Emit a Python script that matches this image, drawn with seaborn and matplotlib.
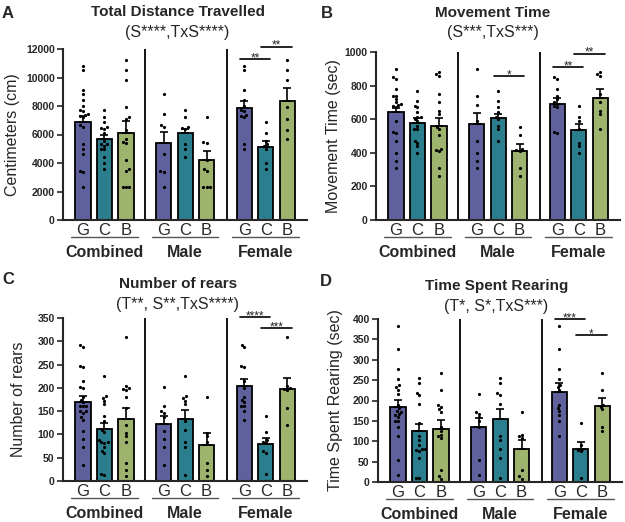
import matplotlib
matplotlib.use("Agg")
import matplotlib.pyplot as plt
import matplotlib.transforms as mtransforms
import numpy as np
import pandas as pd
import seaborn as sns

sns.set_style("white")
plt.rcParams["font.family"] = ["Liberation Sans", "DejaVu Sans"]

W, H = 625, 522

TREATS = ["G", "C", "B"]
GROUPS = ["Combined", "Male", "Female"]
COLORS = {"G": "#5558A6", "C": "#1B8A9D", "B": "#A2BE63"}
POS = [0, 1, 2, 3.75, 4.75, 5.75, 7.5, 8.5, 9.5]
SEPARATORS = [2.88, 6.7]

# bar order: Combined G C B, Male G C B, Female G C B
DIST_MEAN = [6850, 5660, 6130, 5430, 6080, 4190, 7835, 5100, 8350]
DIST_SEM = [420, 300, 800, 750, 280, 650, 500, 450, 880]
DIST_MALE = [[8850, 7450, 6650, 6550, 4650, 3450, 3400, 2350],
             [7750, 7250, 6550, 6450, 6400, 5300, 4950, 4400],
             [7200, 5450, 5400, 4200, 3550, 3450, 2350, 2350, 2300]]
DIST_FEMALE = [[10800, 10550, 9150, 8450, 8000, 7750, 7650, 7400, 7300, 7200, 5300, 4950],
               [6850, 6100, 5550, 5300, 5200, 5000, 4000, 3550],
               [11200, 10500, 9800, 7900, 7100, 6300, 5700]]
DIST_SIG = [(6, 7, 11280, "**"), (7, 8, 12160, "**")]

MOVE_MEAN = [644, 578, 558, 574, 610, 412, 693, 536, 729]
MOVE_SEM = [22, 28, 50, 65, 22, 38, 35, 38, 52]
MOVE_MALE = [[900, 740, 685, 590, 470, 400, 350, 310],
             [770, 710, 670, 640, 615, 600, 560, 540, 470],
             [555, 505, 425, 415, 410, 310, 260]]
MOVE_FEMALE = [[850, 840, 780, 740, 720, 700, 690, 680, 670, 525, 520],
               [680, 615, 590, 540, 460, 440, 400],
               [880, 870, 860, 750, 700, 650, 630, 540]]
MOVE_SIG = [(4, 5, 856, "*"), (6, 7, 911, "**"), (7, 8, 990, "**")]

REAR_MEAN = [170, 111, 134, 123, 133, 77, 203, 80, 198]
REAR_SEM = [13, 13, 22, 17, 20, 27, 15, 12, 23]
REAR_MALE = [[201, 162, 150, 146, 138, 108, 91, 73, 34],
             [226, 182, 178, 172, 165, 128, 109, 84, 73, 12],
             [181, 104, 96, 84, 38, 23, 11]]
REAR_FEMALE = [[292, 288, 246, 245, 215, 200, 180, 175, 170, 162, 160, 150, 132],
               [140, 105, 88, 84, 82, 64, 60, 14],
               [309, 205, 200, 198, 196, 157, 120]]
REAR_SIG = [(6, 7, 352, "****"), (7, 8, 328, "***")]

TREAR_MEAN = [184, 124, 130, 136, 154, 80, 220, 82, 187]
TREAR_SEM = [18, 18, 21, 20, 25, 23, 22, 15, 19]
TREAR_MALE = [[216, 172, 168, 160, 150, 135, 54, 17],
              [255, 242, 218, 214, 192, 112, 103, 80, 58, 9],
              [172, 116, 112, 108, 30, 14, 8]]
TREAR_FEMALE = [[383, 327, 278, 253, 238, 232, 225, 190, 182, 175, 165, 150, 113],
                [146, 90, 82, 78, 75, 10],
                [268, 226, 190, 185, 178, 136, 126]]
TREAR_SIG = [(6, 7, 399, "***"), (7, 8, 361, "*")]


def build_frames(mean, male, female):
    bars = pd.DataFrame({"pos": POS, "mean": mean, "treat": TREATS * 3})
    rows = []
    for k in range(3):
        sets = [male[k] + female[k], male[k], female[k]]
        for g, vals in enumerate(sets):
            rows += [(POS[g * 3 + k], v) for v in vals]
    pts = pd.DataFrame(rows, columns=["pos", "value"])
    return bars, pts


def px_text(fig, x, y, s, **kw):
    fig.text(x / W, 1 - y / H, s, ha="center", va="center", **kw)


def draw_panel(fig, box, letter, letter_xy, title, title_xy, subtitle, sub_xy,
               ylabel, ylab_x, ymax, ystep, mean, sem, male, female, sigs):
    left, top, right, bottom = box
    ax = fig.add_axes([left / W, 1 - bottom / H, (right - left) / W, (bottom - top) / H])
    bars, pts = build_frames(mean, male, female)

    sns.barplot(data=bars, x="pos", y="mean", hue="treat", hue_order=TREATS,
                palette=COLORS, native_scale=True, dodge=False, width=0.7,
                edgecolor="black", linewidth=1.3, errorbar=None, legend=False,
                orient="v", ax=ax, zorder=2)
    ax.errorbar(POS, mean, yerr=[np.zeros(len(sem)), sem], fmt="none",
                ecolor="black", elinewidth=1.2, capsize=3, capthick=1.2, zorder=3)
    sns.swarmplot(data=pts, x="pos", y="value", native_scale=True, orient="v",
                  color="black", size=2.3, ax=ax, zorder=4)

    for s in SEPARATORS:
        ax.axvline(s, color="black", lw=1.3, zorder=1)

    ax.set_xlim(-0.93, 10.42)
    ax.set_ylim(0, ymax)
    ax.set_yticks(np.arange(0, ymax + 1, ystep))
    ax.set_xticks(POS, TREATS * 3)
    ax.tick_params(axis="x", length=0, pad=2, labelsize=12)
    ax.tick_params(axis="y", length=4, width=1.2, pad=2, labelsize=7.5, direction="out", left=True)
    for lab in ax.get_yticklabels():
        lab.set_fontweight("bold")
    ax.set_xlabel("")
    ax.set_ylabel(ylabel, fontsize=11.5, va="center")
    ax.yaxis.set_label_coords(ylab_x, 0.5)
    sns.despine(ax=ax)
    for side in ("left", "bottom"):
        ax.spines[side].set_linewidth(1.5)

    base = mtransforms.blended_transform_factory(ax.transData, ax.transAxes)
    line_tr = mtransforms.offset_copy(base, fig=fig, y=-17, units="dots")
    text_tr = mtransforms.offset_copy(base, fig=fig, y=-37, units="dots")
    for g, name in enumerate(GROUPS):
        c = POS[g * 3 + 1]
        ax.plot([c - 1.55, c + 1.55], [0, 0], transform=line_tr, color="#555555",
                lw=1.0, clip_on=False)
        ax.text(c, 0, name, transform=text_tr, ha="center", va="baseline",
                fontsize=11.5, fontweight="bold")

    for i, j, y, label in sigs:
        x0, x1 = POS[i] - 0.2, POS[j] + 0.2
        ax.plot([x0, x1], [y, y], color="black", lw=1.2, clip_on=False)
        ax.annotate(label, xy=((x0 + x1) / 2, y), xytext=(0, -1.5),
                    textcoords="offset points", ha="center", va="baseline",
                    fontsize=8.5, annotation_clip=False)

    px_text(fig, *letter_xy, letter, fontsize=12, fontweight="bold")
    px_text(fig, *title_xy, title, fontsize=11, fontweight="bold")
    px_text(fig, *sub_xy, subtitle, fontsize=11.5)
    return ax


fig = plt.figure(figsize=(W / 100, H / 100), dpi=100)

draw_panel(fig, (63, 49, 307, 220), "A", (8, 13), "Total Distance Travelled", (178, 12),
           "(S****,TxS****)", (177, 33), "Centimeters (cm)", -0.209, 12000, 2000,
           DIST_MEAN, DIST_SEM, DIST_MALE, DIST_FEMALE, DIST_SIG)
draw_panel(fig, (376, 52, 620, 220), "B", (327, 13), "Movement Time", (493, 13),
           "(S***,TxS***)", (493, 33), "Movement Time (sec)", -0.176, 1000, 200,
           MOVE_MEAN, MOVE_SEM, MOVE_MALE, MOVE_FEMALE, MOVE_SIG)
draw_panel(fig, (63, 318, 307, 481), "C", (8, 279), "Number of rears", (178, 284),
           "(T**, S**,TxS****)", (178, 304), "Number of rears", -0.184, 350, 50,
           REAR_MEAN, REAR_SEM, REAR_MALE, REAR_FEMALE, REAR_SIG)
draw_panel(fig, (378, 319, 622, 482), "D", (326, 281), "Time Spent Rearing", (497, 286),
           "(T*, S*,TxS***)", (496, 306), "Time Spent Rearing (sec)", -0.176, 400, 50,
           TREAR_MEAN, TREAR_SEM, TREAR_MALE, TREAR_FEMALE, TREAR_SIG)

fig.savefig("out.png", dpi=100)
